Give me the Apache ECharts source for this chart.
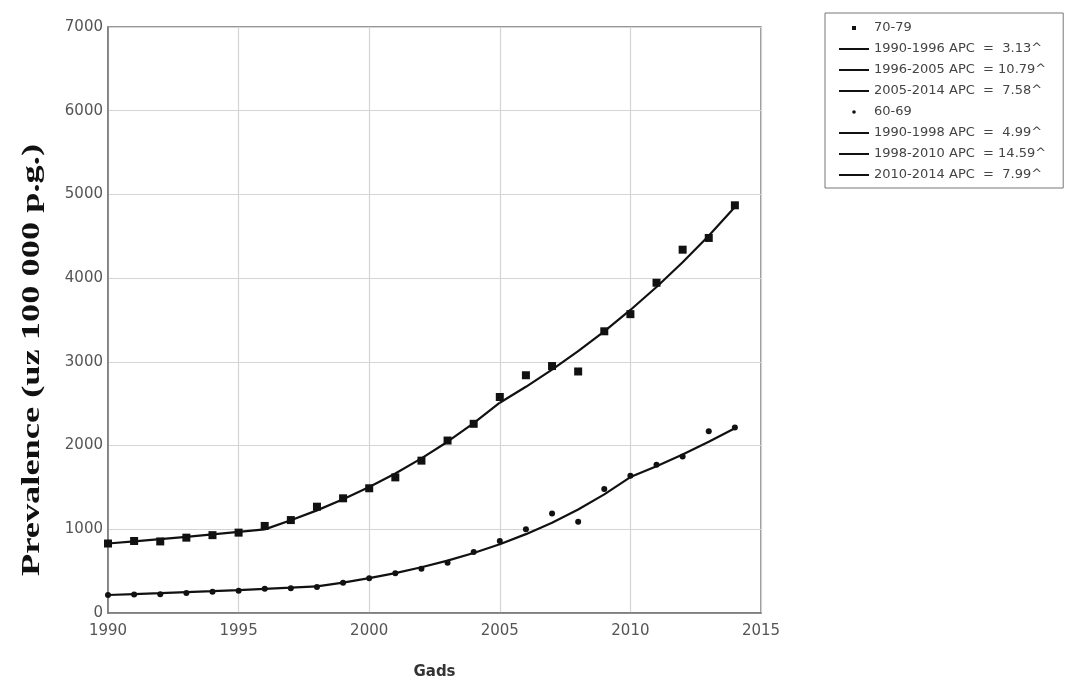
<!DOCTYPE html>
<html>
<head>
<meta charset="utf-8">
<script src="https://cdn.jsdelivr.net/npm/echarts@6/dist/echarts.min.js"></script>
<style>
html,body{margin:0;padding:0;background:#fff;}
#chart{width:1076px;height:686px;}
</style>
</head>
<body>
<div id="chart"></div>
<script>
// ---- data ----
var years = [1990,1991,1992,1993,1994,1995,1996,1997,1998,1999,2000,2001,2002,2003,2004,2005,2006,2007,2008,2009,2010,2011,2012,2013,2014];
// observed prevalence, age 70-79 (squares)
var obs7079 = [830,860,855,900,930,960,1040,1110,1270,1370,1490,1620,1820,2060,2260,2580,2840,2950,2885,3365,3570,3945,4340,4480,4870];
// observed prevalence, age 60-69 (dots)
var obs6069 = [215,220,225,240,255,265,290,295,310,360,415,475,530,600,730,860,1000,1190,1090,1480,1640,1770,1870,2170,2215];
// fitted (joinpoint) values
var fit7079 = [830,856,883,910,939,968,999,1107,1226,1358,1505,1667,1847,2046,2267,2512,2702,2907,3128,3365,3620,3894,4190,4507,4849];
var fit6069 = [215,226,237,249,261,274,288,302,317,363,416,477,546,626,717,822,942,1079,1237,1417,1624,1754,1894,2045,2208];
// segments: [startYear, endYear, label]
var seg7079 = [[1990,1996,'1990-1996 APC  =  3.13^'],[1996,2005,'1996-2005 APC  = 10.79^'],[2005,2014,'2005-2014 APC  =  7.58^']];
var seg6069 = [[1990,1998,'1990-1998 APC  =  4.99^'],[1998,2010,'1998-2010 APC  = 14.59^'],[2010,2014,'2010-2014 APC  =  7.99^']];
var name7079 = '70-79';
var name6069 = '60-69';
var xTicks = {min:1990, max:2015, interval:5};
var yTicks = {min:0, max:7000, interval:1000};
var yTitle = 'Prevalence (uz 100 000 p.g.)';
var xTitle = 'Gads';

// ---- build ----
function pairs(vals){ return years.map(function(y,i){ return [y, vals[i]]; }); }
function segData(vals, s){ return years.map(function(y,i){return [y, vals[i]];}).filter(function(p){ return p[0]>=s[0] && p[0]<=s[1]; }); }
function lineSeries(vals, s){
  return {name:s[2], type:'line', data:segData(vals,s), symbol:'none', showSymbol:false, smooth:false,
    lineStyle:{color:'#111', width:2.2}, itemStyle:{color:'#111'}, z:3, silent:true};
}
var series = [];
series.push({name:name7079, type:'scatter', data:pairs(obs7079), symbol:'rect', symbolSize:8, itemStyle:{color:'#111', opacity:1}, z:4});
seg7079.forEach(function(s){ series.push(lineSeries(fit7079, s)); });
series.push({name:name6069, type:'scatter', data:pairs(obs6069), symbol:'circle', symbolSize:6, itemStyle:{color:'#111', opacity:1}, z:4});
seg6069.forEach(function(s){ series.push(lineSeries(fit6069, s)); });

var sqIcon = 'path://M0,0 M10,10 M3,3 L7,3 L7,7 L3,7 Z';
var dotIcon = 'path://M0,0 M10,10 M3.2,5 A1.8,1.8 0 1 1 6.8,5 A1.8,1.8 0 1 1 3.2,5 Z';
var lineIcon = 'path://M0,0 M30,10 M0,4 L30,4 L30,6 L0,6 Z';
var legendData = [{name:name7079, icon:sqIcon}].concat(seg7079.map(function(s){return {name:s[2], icon:lineIcon};}))
  .concat([{name:name6069, icon:dotIcon}]).concat(seg6069.map(function(s){return {name:s[2], icon:lineIcon};}));

var chart = echarts.init(document.getElementById('chart'), null, {renderer:'canvas'});
chart.setOption({
  animation:false,
  backgroundColor:'#fff',
  grid:{left:108, top:27, right:315, bottom:73, show:true, borderColor:'#777', borderWidth:1.5, backgroundColor:'transparent'},
  xAxis:{type:'value', min:xTicks.min, max:xTicks.max, interval:xTicks.interval,
    name:xTitle, nameLocation:'middle', nameGap:52,
    nameTextStyle:{fontFamily:'DejaVu Sans', fontWeight:'bold', fontSize:15, color:'#333'},
    axisLine:{show:true, lineStyle:{color:'#777', width:1.5}}, axisTick:{show:false},
    axisLabel:{fontFamily:'DejaVu Sans', fontSize:15, color:'#555', margin:11, formatter:function(v){return String(v);}},
    splitLine:{show:true, lineStyle:{color:'#d4d4d4', width:1.2}}},
  yAxis:{type:'value', min:yTicks.min, max:yTicks.max, interval:yTicks.interval,
    axisLine:{show:true, lineStyle:{color:'#777', width:1.5}}, axisTick:{show:false},
    axisLabel:{fontFamily:'DejaVu Sans', fontSize:15, color:'#555', margin:5, formatter:function(v){return String(v);}},
    splitLine:{show:true, lineStyle:{color:'#d4d4d4', width:1.2}}},
  legend:{orient:'vertical', left:825, top:13, padding:[8,17,6,14], itemGap:7,
    itemWidth:30, itemHeight:10, symbolKeepAspect:true,
    borderColor:'#777', borderWidth:1, backgroundColor:'#fff',
    textStyle:{fontFamily:'DejaVu Sans', fontSize:13, color:'#444', lineHeight:14},
    data:legendData},
  graphic:[{type:'text', x:32, y:360, rotation:Math.PI/2, scaleX:1.4, scaleY:1,
    style:{text:yTitle, fontFamily:'Liberation Serif', fontWeight:'bold', fontSize:26, fill:'#111', align:'center', verticalAlign:'middle'}}],
  series:series
});
</script>
</body>
</html>
